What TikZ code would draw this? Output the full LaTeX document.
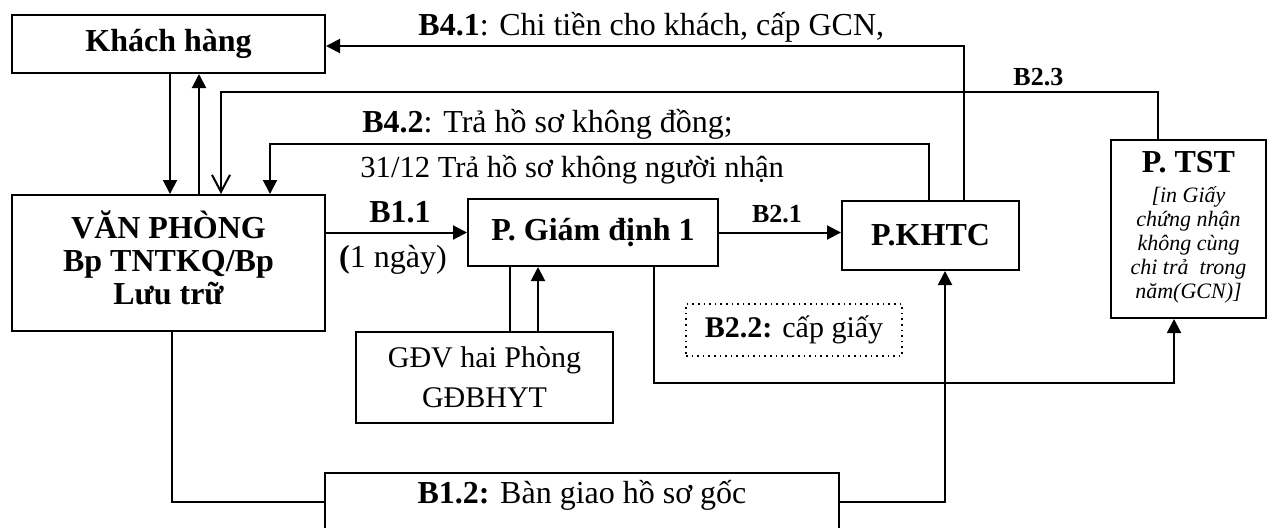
\documentclass[tikz,border=0pt]{standalone}
\usepackage{fontspec}
\setmainfont{Liberation Serif}
\usetikzlibrary{arrows.meta}
\begin{document}
\begin{tikzpicture}[x=0.5pt,y=-0.5pt,
 box/.style={draw,line width=1pt,inner sep=0pt,align=center},
 conn/.style={line width=1pt},
 arr/.style={line width=1pt,-{Triangle[length=7pt,width=7pt]}},
 oarr/.style={line width=1pt,-{Straight Barb[length=8.5pt,width=9pt,line width=1pt]}},
 bfs/.style={font=\fontsize{16}{16.5}\selectfont\bfseries},
 lbl/.style={inner sep=0pt,font=\fontsize{16}{18}\selectfont},
]
\useasboundingbox (0,0) rectangle (1267,527);

% boxes
\node[box,bfs,minimum width=156.5pt,minimum height=68pt] (vp) at (168.5,263) {VĂN PHÒNG\\Bp TNTKQ/Bp\\Lưu trữ\rule[-5pt]{0pt}{5pt}};
\node[box,bfs,minimum width=156.5pt,minimum height=29pt] (kh) at (168.5,44) {Khách hàng};
\node[box,bfs,minimum width=125pt,minimum height=33.5pt] (gd1) at (593,232.5) {P. Giám định 1};
\node[box,bfs,minimum width=88.5pt,minimum height=34.5pt] (khtc) at (930.5,235.5) {P.KHTC};
\node[box,minimum width=77.5pt,minimum height=89pt,font=\fontsize{11}{12}\selectfont\itshape] (tst) at (1188.5,229)
 {{\fontsize{16}{16}\selectfont\bfseries\upshape P. TST}\\[3pt]{[}in Giấy\\chứng nhận\\không cùng\\chi trả~ trong\\năm(GCN){]}\rule[-4pt]{0pt}{4pt}};
\node[box,minimum width=128.5pt,minimum height=45.5pt,font=\fontsize{15}{20}\selectfont] (gdv) at (484.5,377.5) {GĐV hai Phòng\\GĐBHYT};
\node[draw,dotted,line width=0.8pt,minimum width=108pt,minimum height=26pt,inner sep=0pt,font=\fontsize{15}{18}\selectfont] (b22) at (794,330) {\textbf{B2.2:} cấp giấy};
\node[box,font=\fontsize{16}{18}\selectfont,minimum width=257pt,text height=15pt,text depth=14pt,anchor=north] (b12) at (582,472) {\textbf{B1.2:} Bàn giao hồ sơ gốc};

% labels
\node[lbl,anchor=base west] (l41) at (418,35) {\textbf{B4.1}: Chi tiền cho khách, cấp GCN,};
\node[lbl,anchor=base west,font=\fontsize{13}{15}\selectfont\bfseries] (l23) at (1013,85) {B2.3};
\node[lbl,anchor=base west] (l42) at (362,132) {\textbf{B4.2}: Trả hồ sơ không đồng;};
\node[lbl,anchor=base west,font=\fontsize{15.3}{18}\selectfont] (l3112) at (360,177) {31/12 Trả hồ sơ không người nhận};
\node[lbl,anchor=base,font=\fontsize{16}{18}\selectfont\bfseries] (l11) at (400,222) {B1.1};
\node[lbl,anchor=base] (l1n) at (393,267) {\textbf{(}1 ngày)};
\node[lbl,anchor=base,font=\fontsize{13}{15}\selectfont\bfseries] (l21) at (777,222) {B2.1};

% connectors
\draw[arr] ([xshift=0.75pt]kh.south) -- ([xshift=0.75pt]vp.north);
\draw[arr] ([xshift=15.25pt]vp.north) -- ([xshift=15.25pt]kh.south);
\draw[oarr] ([xshift=-15.25pt]tst.north) -- ++(0,-47) -| ([xshift=26.25pt]vp.north);
\draw[arr] ([xshift=16.75pt]khtc.north) |- ([yshift=-1pt]kh.east);
\draw[arr] ([xshift=-0.75pt]khtc.north) -- ++(0,-56) -| ([xshift=50.75pt]vp.north);
\draw[arr] (vp.east |- gd1.west) -- (gd1.west);
\draw[arr] (gd1.east) -- (gd1.east -| khtc.west);
\draw[conn] ([xshift=-41.5pt]gd1.south) -- ([xshift=12.75pt]gdv.north);
\draw[arr] ([xshift=26.75pt]gdv.north) -- ([xshift=-27.5pt]gd1.south);
\draw[arr] ([xshift=30.5pt]gd1.south) -- ++(0,116) -| ([xshift=-7.25pt]tst.south);
\draw[conn] ([xshift=1.75pt]vp.south) |- (b12.west);
\draw[arr] (b12.east) -| ([xshift=7.25pt]khtc.south);
\end{tikzpicture}
\end{document}
